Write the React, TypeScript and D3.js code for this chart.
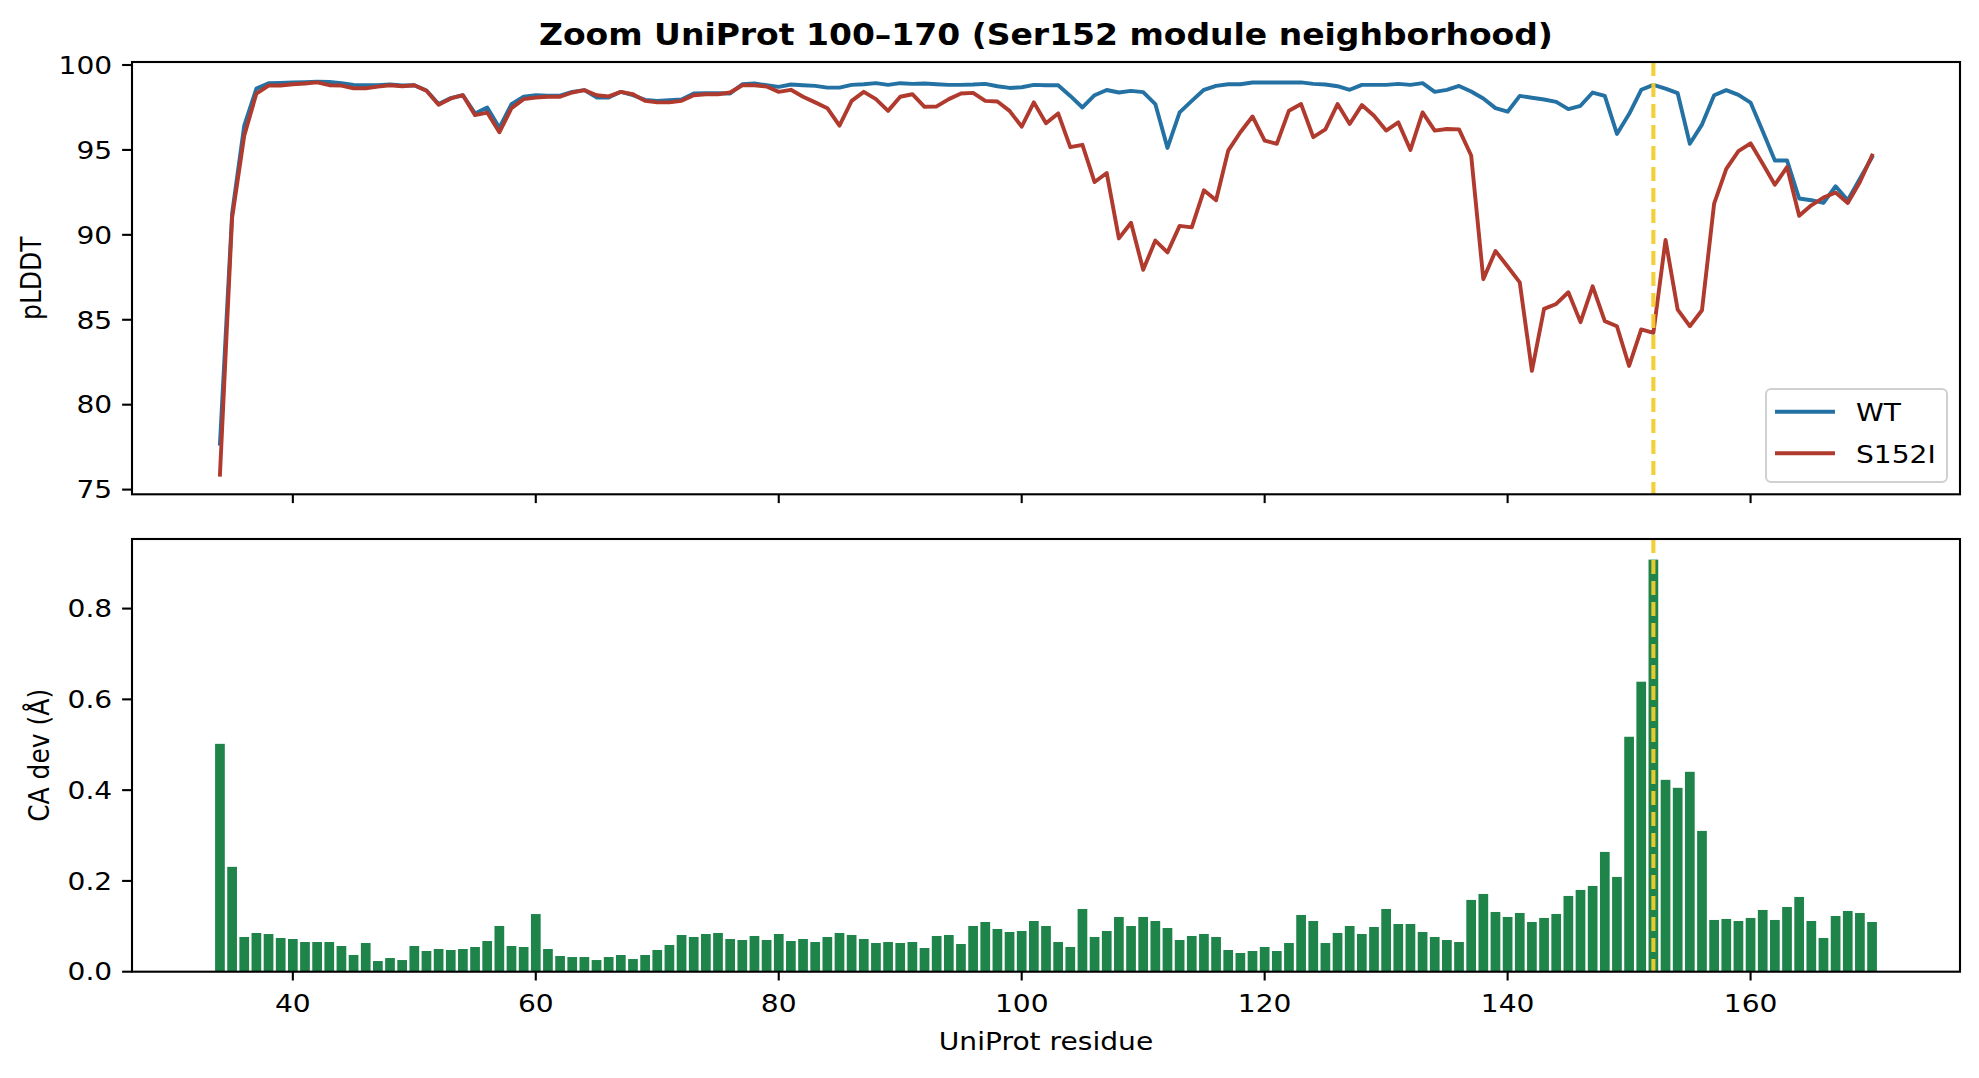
import React from 'react';
import * as d3 from 'd3';

// ---------- data ----------
const firstResidue = 34;
const lastResidue = 170;
const mutationSite = 152;

const wtPlddt = [
  77.7, 91.25, 96.43, 98.61, 98.93, 98.95, 98.97, 98.99, 99.02, 99.0,
  98.93, 98.83, 98.81, 98.81, 98.85, 98.79, 98.81, 98.5, 97.7, 98.05,
  98.22, 97.15, 97.5, 96.3, 97.7, 98.14, 98.22, 98.2, 98.2, 98.42,
  98.52, 98.09, 98.09, 98.42, 98.22, 97.95, 97.89, 97.93, 97.97, 98.32,
  98.34, 98.34, 98.32, 98.87, 98.91, 98.81, 98.71, 98.85, 98.81, 98.77,
  98.67, 98.67, 98.83, 98.87, 98.93, 98.83, 98.93, 98.89, 98.91, 98.87,
  98.83, 98.83, 98.85, 98.89, 98.75, 98.65, 98.69, 98.83, 98.81, 98.81,
  98.18, 97.5, 98.22, 98.53, 98.38, 98.48, 98.4, 97.7, 95.12, 97.21,
  97.89, 98.54, 98.77, 98.87, 98.87, 98.97, 98.97, 98.97, 98.97, 98.98,
  98.89, 98.85, 98.75, 98.54, 98.83, 98.83, 98.83, 98.89, 98.83, 98.93,
  98.42, 98.54, 98.77, 98.44, 98.03, 97.46, 97.25, 98.18, 98.07, 97.97,
  97.83, 97.4, 97.6, 98.38, 98.18, 95.94, 97.11, 98.54, 98.83, 98.61,
  98.34, 95.36, 96.49, 98.22, 98.52, 98.24, 97.79, 96.1, 94.38, 94.38,
  92.14, 92.04, 91.88, 92.86, 92.04, 93.31, 94.57,
];

const s152iPlddt = [
  75.88, 91.0, 95.84, 98.32, 98.79, 98.79, 98.87, 98.91, 98.98, 98.81,
  98.79, 98.63, 98.63, 98.73, 98.81, 98.75, 98.81, 98.48, 97.66, 98.03,
  98.22, 97.05, 97.2, 96.04, 97.46, 97.99, 98.09, 98.13, 98.13, 98.38,
  98.52, 98.22, 98.15, 98.42, 98.28, 97.89, 97.8, 97.8, 97.89, 98.22,
  98.28, 98.28, 98.38, 98.81, 98.81, 98.73, 98.42, 98.54, 98.13, 97.8,
  97.46, 96.43, 97.89, 98.42, 97.99, 97.3, 98.13, 98.28, 97.54, 97.56,
  97.99, 98.32, 98.36, 97.89, 97.85, 97.3, 96.37, 97.8, 96.57, 97.15,
  95.16, 95.3, 93.11, 93.64, 89.79, 90.71, 87.94, 89.66, 88.97, 90.53,
  90.44, 92.62, 92.04, 94.96, 96.04, 96.97, 95.55, 95.36, 97.31, 97.7,
  95.75, 96.21, 97.7, 96.53, 97.64, 97.01, 96.14, 96.62, 95.0, 97.21,
  96.14, 96.23, 96.21, 94.67, 87.39, 89.05, 88.14, 87.2, 81.99, 85.64,
  85.93, 86.62, 84.86, 86.97, 84.92, 84.62, 82.28, 84.43, 84.23, 89.7,
  85.6, 84.62, 85.56, 91.84, 93.89, 94.93, 95.39, 94.18, 92.95, 93.99,
  91.12, 91.74, 92.19, 92.49, 91.88, 93.11, 94.67,
];

const caDev = [
  0.502, 0.231, 0.0765, 0.0853, 0.083, 0.0743, 0.072, 0.0654, 0.0654, 0.0654,
  0.0566, 0.0368, 0.0632, 0.0235, 0.0301, 0.0257, 0.0566, 0.0456, 0.05, 0.0478,
  0.05, 0.0544, 0.0676, 0.1007, 0.0566, 0.0544, 0.127, 0.05, 0.0346, 0.0323,
  0.0323, 0.0257, 0.0323, 0.0368, 0.0279, 0.0368, 0.0478, 0.0588, 0.0809, 0.0765,
  0.0831, 0.0853, 0.072, 0.0698, 0.0787, 0.0698, 0.0831, 0.0676, 0.072, 0.0654,
  0.0765, 0.0853, 0.0809, 0.072, 0.0632, 0.0654, 0.0632, 0.0654, 0.0522, 0.0787,
  0.0809, 0.061, 0.1007, 0.1095, 0.0941, 0.0875, 0.0897, 0.1117, 0.1007, 0.0654,
  0.0544, 0.1382, 0.0765, 0.0897, 0.1206, 0.1007, 0.1206, 0.1117, 0.0963, 0.0698,
  0.0787, 0.0831, 0.0765, 0.0478, 0.0412, 0.0456, 0.0544, 0.0456, 0.0632, 0.125,
  0.1117, 0.0632, 0.0853, 0.1007, 0.0831, 0.0985, 0.1382, 0.1051, 0.1051, 0.0875,
  0.0765, 0.0698, 0.0654, 0.1581, 0.1713, 0.1316, 0.1206, 0.1294, 0.1095, 0.1184,
  0.1272, 0.1669, 0.1801, 0.1889, 0.2639, 0.2088, 0.5176, 0.6389, 0.9079, 0.4227,
  0.4051, 0.4404, 0.3102, 0.114, 0.1162, 0.1117, 0.1184, 0.136, 0.114, 0.1426,
  0.1647, 0.1117, 0.0743, 0.1228, 0.1338, 0.1294, 0.1095,
];

const residues = d3.range(firstResidue, lastResidue + 1);

const xTicks = [40, 60, 80, 100, 120, 140, 160];
const plddtTicks = [75, 80, 85, 90, 95, 100];
const devTicks = [0.0, 0.2, 0.4, 0.6, 0.8];

const titleText = 'Zoom UniProt 100\u2013170 (Ser152 module neighborhood)';
const seriesNames = ['WT', 'S152I'];
const xLabel = 'UniProt residue';
const yLabelTop = 'pLDDT';
const yLabelBottom = 'CA dev (\u00C5)';

// ---------- style ----------
const W = 1979;
const H = 1078;
const FONT = 'DejaVu Sans, sans-serif';
const COL_WT = '#2471A3';
const COL_MUT = '#B03A2E';
const COL_BAR = '#1E8449';
const COL_SITE = '#F4CD2F';

const left = 132;
const right = 1960;
const topA = 62;
const botA = 494.3;
const topB = 539;
const botB = 971.7;
const barWidth = 0.8;
const SX = 1.125; // horizontal stretch of text in the reference

type TProps = {
  x: number;
  y: number;
  anchor?: 'start' | 'middle' | 'end';
  size?: number;
  sx?: number;
  weight?: string;
  dy?: string;
  children: React.ReactNode;
};

function T({ x, y, anchor = 'start', size = 25, sx = SX, weight = 'normal', dy, children }: TProps) {
  return (
    <text
      transform={`translate(${x},${y}) scale(${sx},1)`}
      textAnchor={anchor}
      fontSize={size}
      fontWeight={weight}
      dy={dy}
      fill="#000"
    >
      {children}
    </text>
  );
}

export default function App() {
  const xMin = firstResidue - barWidth / 2;
  const xMax = lastResidue + barWidth / 2;
  const xPad = (xMax - xMin) * 0.05;
  const x = d3.scaleLinear().domain([xMin - xPad, xMax + xPad]).range([left, right]);

  const allP = [...wtPlddt, ...s152iPlddt];
  const pMin = d3.min(allP) as number;
  const pMax = d3.max(allP) as number;
  const pPad = (pMax - pMin) * 0.05;
  const yA = d3.scaleLinear().domain([pMin - pPad, pMax + pPad]).range([botA, topA]);

  const dMax = d3.max(caDev) as number;
  const yB = d3.scaleLinear().domain([0, dMax * 1.05]).range([botB, topB]);

  const lineA = d3
    .line<number>()
    .x((_, i) => x(residues[i]))
    .y((d) => yA(d));

  const yTickLen = 9.9;
  const xTickLen = 8.8;
  const tickW = 2.1;
  const fs = 25;
  const dash = '14 7';

  const legX = 1766;
  const legY = 389;

  return (
    <svg
      width={W}
      height={H}
      style={{ position: 'absolute', left: 0, top: 0, background: '#fff' }}
      fontFamily={FONT}
    >
      <rect x={0} y={0} width={W} height={H} fill="#fff" />
      {/* Title */}
      <T x={(left + right) / 2} y={44.5} anchor="middle" size={30} sx={1.1} weight="bold">
        {titleText}
      </T>

      {/* ---------- top panel ---------- */}
      <g>
        <clipPath id="clipA">
          <rect x={left} y={topA} width={right - left} height={botA - topA} />
        </clipPath>
        <g clipPath="url(#clipA)">
          <path d={lineA(wtPlddt) || ''} fill="none" stroke={COL_WT} strokeWidth={3.9} strokeLinejoin="round" strokeLinecap="square" />
          <path d={lineA(s152iPlddt) || ''} fill="none" stroke={COL_MUT} strokeWidth={3.9} strokeLinejoin="round" strokeLinecap="square" />
          <line
            x1={x(mutationSite)}
            x2={x(mutationSite)}
            y1={topA}
            y2={botA}
            stroke={COL_SITE}
            strokeWidth={4.1}
            strokeDasharray={dash}
            opacity={0.95}
          />
        </g>
        <rect x={left} y={topA} width={right - left} height={botA - topA} fill="none" stroke="#000" strokeWidth={2.1} />
        {plddtTicks.map((t) => (
          <g key={'ya' + t}>
            <line x1={left - yTickLen} x2={left} y1={yA(t)} y2={yA(t)} stroke="#000" strokeWidth={tickW} />
            <T x={left - yTickLen - 9.9} y={yA(t)} dy="0.35em" anchor="end" size={fs}>
              {t}
            </T>
          </g>
        ))}
        {xTicks.map((t) => (
          <line key={'xa' + t} x1={x(t)} x2={x(t)} y1={botA} y2={botA + xTickLen} stroke="#000" strokeWidth={tickW} />
        ))}
        <text
          transform={`translate(41, ${(topA + botA) / 2}) scale(${SX},1) rotate(-90)`}
          textAnchor="middle"
          fontSize={fs}
          fill="#000"
        >
          {yLabelTop}
        </text>

        {/* legend */}
        <rect x={legX} y={legY} width={181} height={93} rx={5} ry={5} fill="#fff" fillOpacity={0.8} stroke="#d0d0d0" strokeWidth={2} />
        <line x1={1775} x2={1835} y1={411.7} y2={411.7} stroke={COL_WT} strokeWidth={3.9} />
        <line x1={1775} x2={1835} y1={453.3} y2={453.3} stroke={COL_MUT} strokeWidth={3.9} />
        <T x={1856} y={412.5} dy="0.35em" size={fs}>
          {seriesNames[0]}
        </T>
        <T x={1856} y={454} dy="0.35em" size={fs}>
          {seriesNames[1]}
        </T>
      </g>

      {/* ---------- bottom panel ---------- */}
      <g>
        {caDev.map((v, i) => (
          <rect
            key={'b' + i}
            x={x(residues[i] - barWidth / 2)}
            width={x(residues[i] + barWidth / 2) - x(residues[i] - barWidth / 2)}
            y={yB(v)}
            height={yB(0) - yB(v)}
            fill={COL_BAR}
          />
        ))}
        <line
          x1={x(mutationSite)}
          x2={x(mutationSite)}
          y1={topB}
          y2={botB}
          stroke={COL_SITE}
          strokeWidth={4.1}
          strokeDasharray={dash}
          opacity={0.95}
        />
        <rect x={left} y={topB} width={right - left} height={botB - topB} fill="none" stroke="#000" strokeWidth={2.1} />
        {devTicks.map((t) => (
          <g key={'yb' + t}>
            <line x1={left - yTickLen} x2={left} y1={yB(t)} y2={yB(t)} stroke="#000" strokeWidth={tickW} />
            <T x={left - yTickLen - 9.9} y={yB(t)} dy="0.35em" anchor="end" size={fs}>
              {t.toFixed(1)}
            </T>
          </g>
        ))}
        {xTicks.map((t) => (
          <g key={'xb' + t}>
            <line x1={x(t)} x2={x(t)} y1={botB} y2={botB + xTickLen} stroke="#000" strokeWidth={tickW} />
            <T x={x(t)} y={1012} anchor="middle" size={fs}>
              {t}
            </T>
          </g>
        ))}
        <text
          transform={`translate(49, ${(topB + botB) / 2}) scale(${SX},1) rotate(-90)`}
          textAnchor="middle"
          fontSize={fs}
          fill="#000"
        >
          {yLabelBottom}
        </text>
        <T x={(left + right) / 2} y={1050} anchor="middle" size={fs}>
          {xLabel}
        </T>
      </g>
    </svg>
  );
}
